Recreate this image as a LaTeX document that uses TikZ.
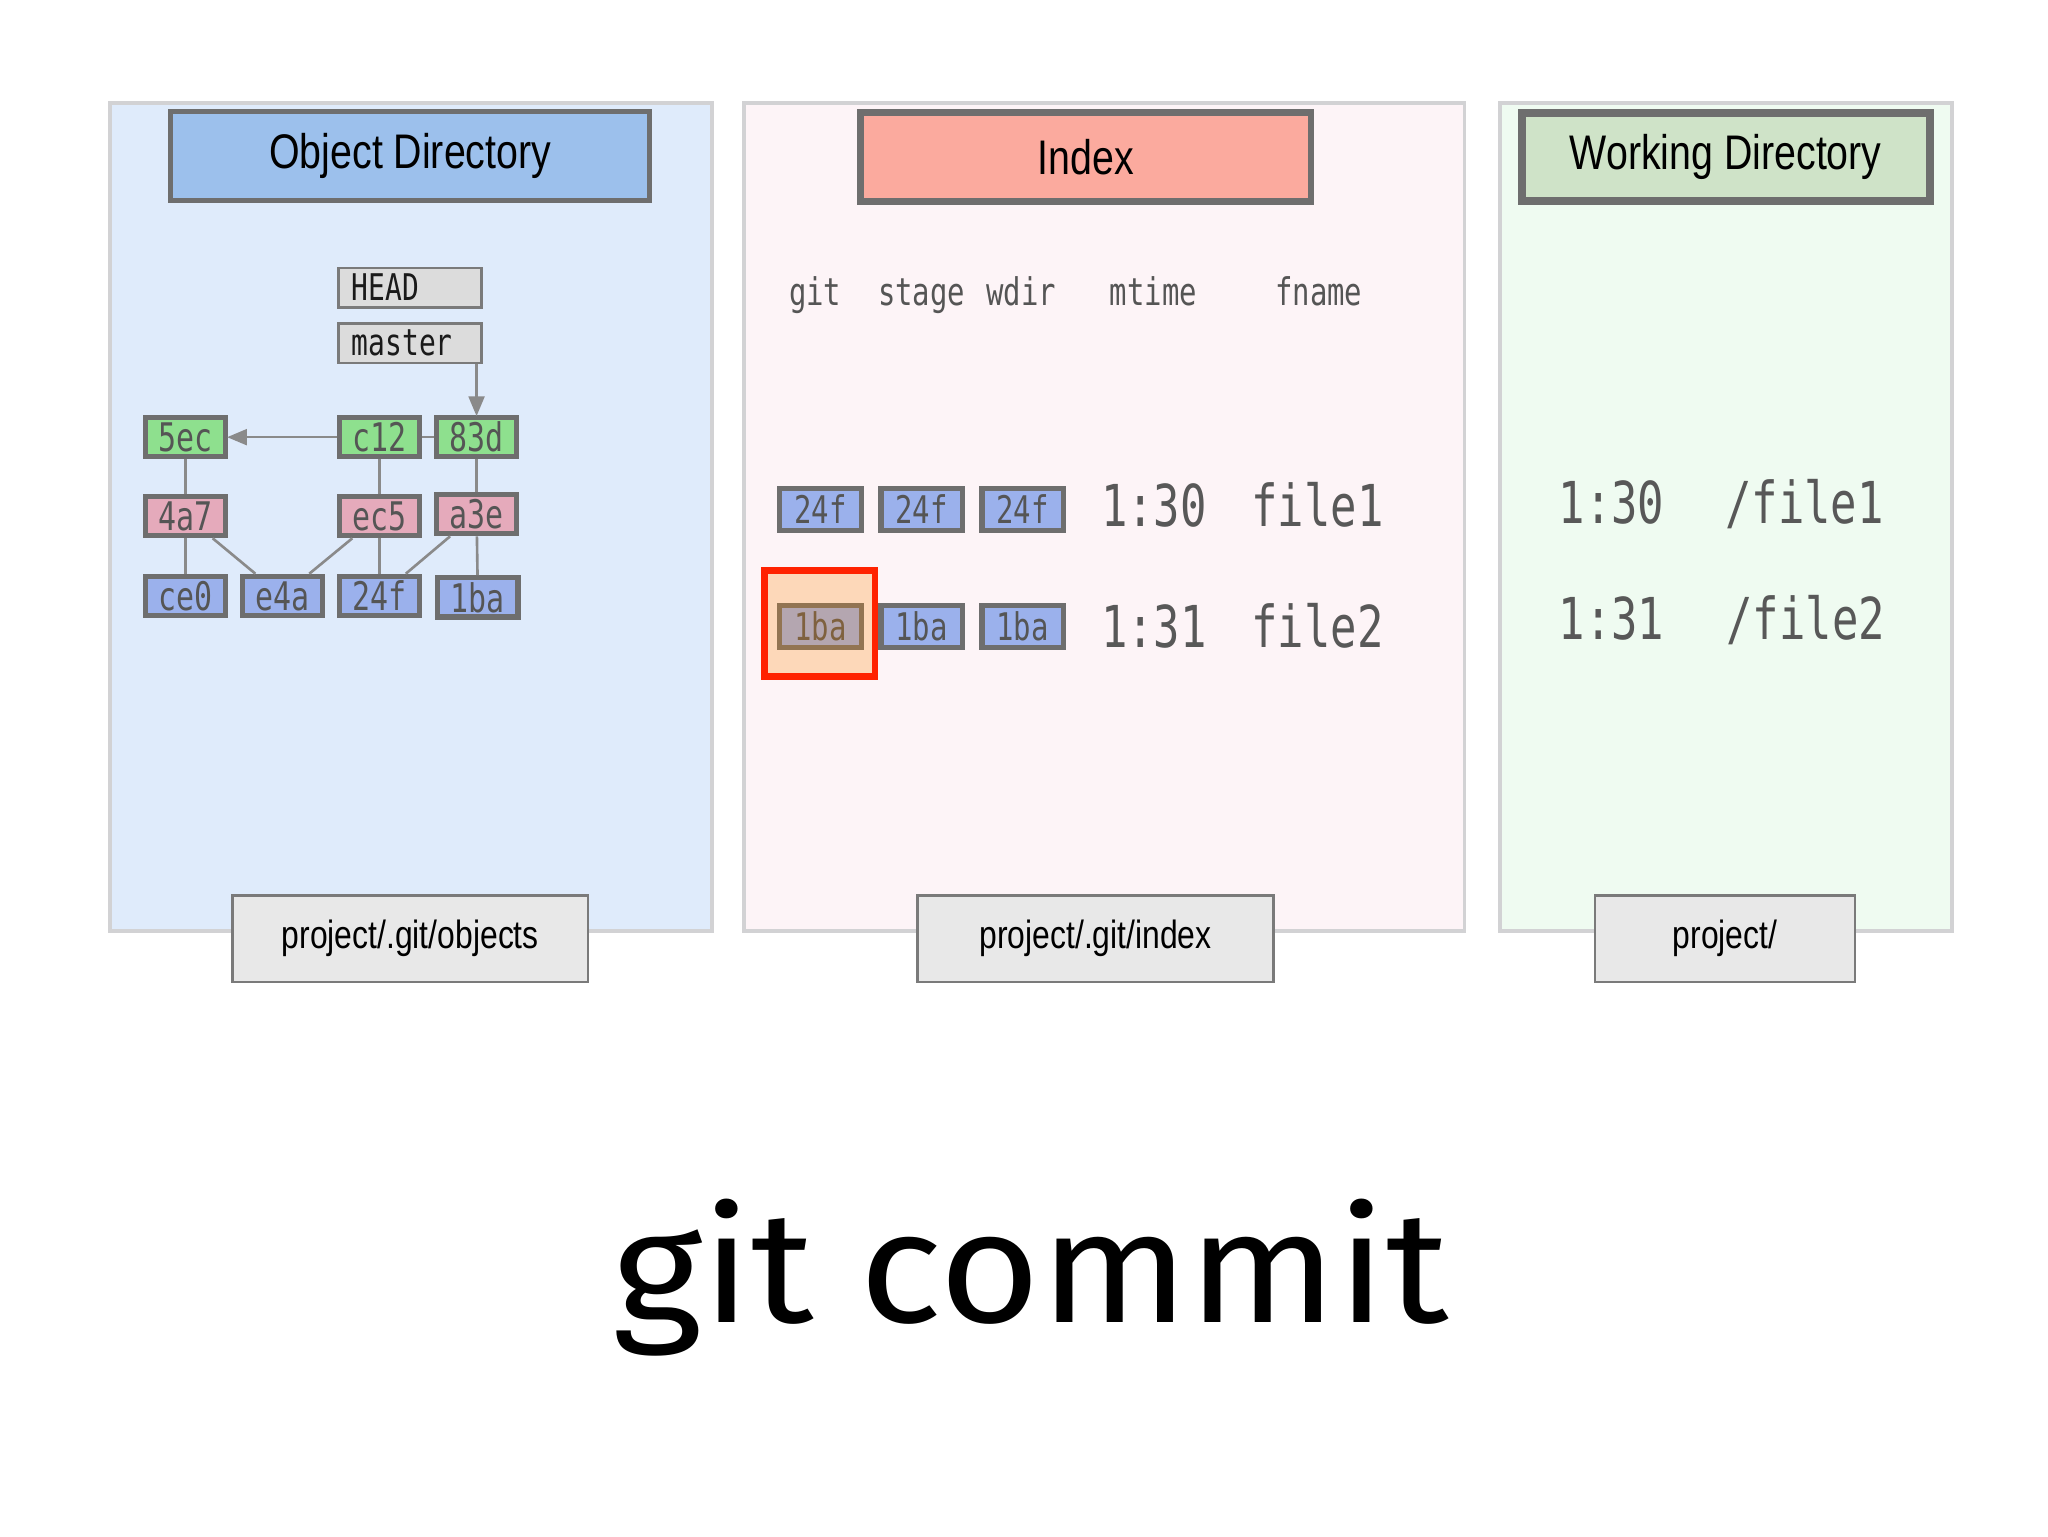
\documentclass[tikz,border=0pt]{standalone}
\usepackage{fontspec}
\usepackage{graphicx}
\setmainfont{Liberation Sans}[FakeStretch=0.81]
\newfontfamily\monofont{DejaVu Sans Mono}[FakeStretch=0.76]
\newfontfamily\gillfont{Fira Sans}
\usetikzlibrary{arrows.meta}
\definecolor{panelA}{HTML}{DFEBFB}
\definecolor{panelB}{HTML}{FDF4F7}
\definecolor{panelC}{HTML}{EFFBF1}
\definecolor{panelborder}{HTML}{D2D2D4}
\definecolor{headA}{HTML}{9CC0EC}
\definecolor{headB}{HTML}{FBAA9E}
\definecolor{headC}{HTML}{CFE3C8}
\definecolor{headborder}{HTML}{6E6E6E}
\definecolor{labelfill}{HTML}{E8E8E8}
\definecolor{labelborder}{HTML}{7A7A7A}
\definecolor{boxborder}{HTML}{6E6E6E}
\definecolor{commitgreen}{HTML}{8EE08E}
\definecolor{treepink}{HTML}{E5AABB}
\definecolor{blobblue}{HTML}{9BB1EC}
\definecolor{hashtext}{HTML}{555555}
\definecolor{reffill}{HTML}{DCDCDC}
\definecolor{refborder}{HTML}{7A7A7A}
\definecolor{reftext}{HTML}{1A1A1A}
\definecolor{linkgray}{HTML}{8A8A8A}
\definecolor{bigtextc}{HTML}{585858}
\definecolor{hlred}{RGB}{255,34,0}
\definecolor{hlorange}{RGB}{255,136,0}
\begin{document}
\begin{tikzpicture}[x=1pt,y=-1pt,
  panel/.style={draw=panelborder, line width=3pt},
  header/.style={draw=headborder, inner sep=0pt, text=black,
    font=\fontsize{37}{44}\selectfont},
  pathlabel/.style={draw=labelborder, fill=labelfill, line width=2pt,
    minimum height=66pt, inner sep=0pt, text=black,
    font=\fontsize{30}{36}\selectfont},
  hashbox/.style={draw=boxborder, line width=4pt, minimum width=61pt,
    minimum height=30pt, inner sep=0pt, text=hashtext,
    font=\monofont\fontsize{30}{36}\selectfont},
  commitbox/.style={hashbox, fill=commitgreen},
  treebox/.style={hashbox, fill=treepink},
  blobbox/.style={hashbox, fill=blobblue},
  idxbox/.style={hashbox, fill=blobblue, minimum width=62pt, minimum height=32pt,
    font=\monofont\fontsize{29}{34}\selectfont},
  refbox/.style={draw=refborder, fill=reffill, line width=2pt,
    minimum height=30pt, text width=89pt, align=left, inner xsep=10pt,
    inner ysep=0pt, text=reftext, font=\monofont\fontsize{28}{34}\selectfont},
  link/.style={draw=linkgray, line width=2pt},
  arr/.style={link, -{Triangle[length=15pt,width=12pt]}},
  colhead/.style={anchor=base, inner sep=0pt, text=hashtext,
    font=\monofont\fontsize{29}{34}\selectfont},
  bigtext/.style={anchor=base, inner sep=0pt, text=bigtextc,
    font=\monofont\fontsize{44}{52}\selectfont},
  highlight/.style={draw=hlred, line width=5pt, fill=hlorange, fill opacity=0.25,
    draw opacity=1, minimum width=84pt, minimum height=81pt, inner sep=0pt}
]
\useasboundingbox (0,0) rectangle (1560,1170);
\fill[white] (0,0) rectangle (1560,1170);

% panels
\path[panel, fill=panelA] (83.5,78.5) rectangle (542.5,709.5);
\path[panel, fill=panelB] (566.5,78.5) rectangle (1115.5,709.5);
\path[panel, fill=panelC] (1142.5,78.5) rectangle (1486.5,709.5);

% headers
\node[header, fill=headA, line width=4pt, minimum width=365pt, minimum height=68pt]
  (hobj) at (312.5,119) {Object Directory};
\node[header, fill=headB, line width=5pt, minimum width=343pt, minimum height=68pt]
  (hidx) at (827,119.5) {Index};
\node[header, fill=headC, line width=6pt, minimum width=311pt, minimum height=67pt]
  (hwd) at (1314.5,119.5) {Working Directory};

% path labels
\node[pathlabel, minimum width=271pt] (lobj) at (312.5,715) {project/.git/objects};
\node[pathlabel, minimum width=271pt] (lidx) at (834.5,715) {project/.git/index};
\node[pathlabel, minimum width=198pt] (lwd) at (1314,715) {project/};

% refs
\node[refbox] (head) at (312.5,219) {HEAD};
\node[refbox] (master) at (312.5,261.5) {master};

% object graph
\node[commitbox] (c5ec) at (141.5,333) {5ec};
\node[commitbox] (cc12) at (289,333) {c12};
\node[commitbox] (c83d) at (363,333) {83d};
\node[treebox] (t4a7) at (141.5,393) {4a7};
\node[treebox] (tec5) at (289,393) {ec5};
\node[treebox] (ta3e) at (363,391.5) {a3e};
\node[blobbox] (bce0) at (141.5,454) {ce0};
\node[blobbox] (be4a) at (215,454) {e4a};
\node[blobbox] (b24f) at (289,454) {24f};
\node[blobbox] (b1ba) at (364,455) {1ba};

\draw[arr, shorten >=-1pt] (master.south -| c83d.north) -- (c83d.north);
\draw[arr, shorten >=-1pt] (cc12) -- (c5ec);
\draw[link] (cc12) -- (c83d);
\draw[link] (c5ec) -- (t4a7);
\draw[link] (t4a7) -- (bce0);
\draw[link] (t4a7) -- (be4a);
\draw[link] (cc12) -- (tec5);
\draw[link] (tec5) -- (be4a);
\draw[link] (tec5) -- (b24f);
\draw[link] (c83d) -- (ta3e);
\draw[link] (ta3e) -- (b24f);
\draw[link] (ta3e) -- (b1ba);

% index column heads
\node[colhead] (kgit) at (621,233) {git};
\node[colhead] (kstage) at (702,233) {stage};
\node[colhead] (kwdir) at (778,233) {wdir};
\node[colhead] (kmtime) at (878.5,233) {mtime};
\node[colhead] (kfname) at (1004.5,233) {fname};

% index rows
\node[idxbox] (i1a) at (625,388) {24f};
\node[idxbox] (i1b) at (702,388) {24f};
\node[idxbox] (i1c) at (779,388) {24f};
\node[bigtext] (i1t) at (879,401) {1:30};
\node[bigtext] (i1f) at (1003.5,401) {file1};
\node[idxbox] (i2a) at (625,477) {1ba};
\node[idxbox] (i2b) at (702,477) {1ba};
\node[idxbox] (i2c) at (779,477) {1ba};
\node[bigtext] (i2t) at (879,493) {1:31};
\node[bigtext] (i2f) at (1003.5,493) {file2};
\node[highlight] (hl) at (624.5,475) {};

% working directory
\node[bigtext] (w1t) at (1227.5,399) {1:30};
\node[bigtext] (w1f) at (1374.5,399) {/file1};
\node[bigtext] (w2t) at (1227.5,487) {1:31};
\node[bigtext] (w2f) at (1375.5,487) {/file2};

% title
\node[anchor=base west, inner sep=0pt] (title) at (466,1007)
  {\resizebox{637pt}{94pt}{\gillfont git commit}};
\end{tikzpicture}
\end{document}
